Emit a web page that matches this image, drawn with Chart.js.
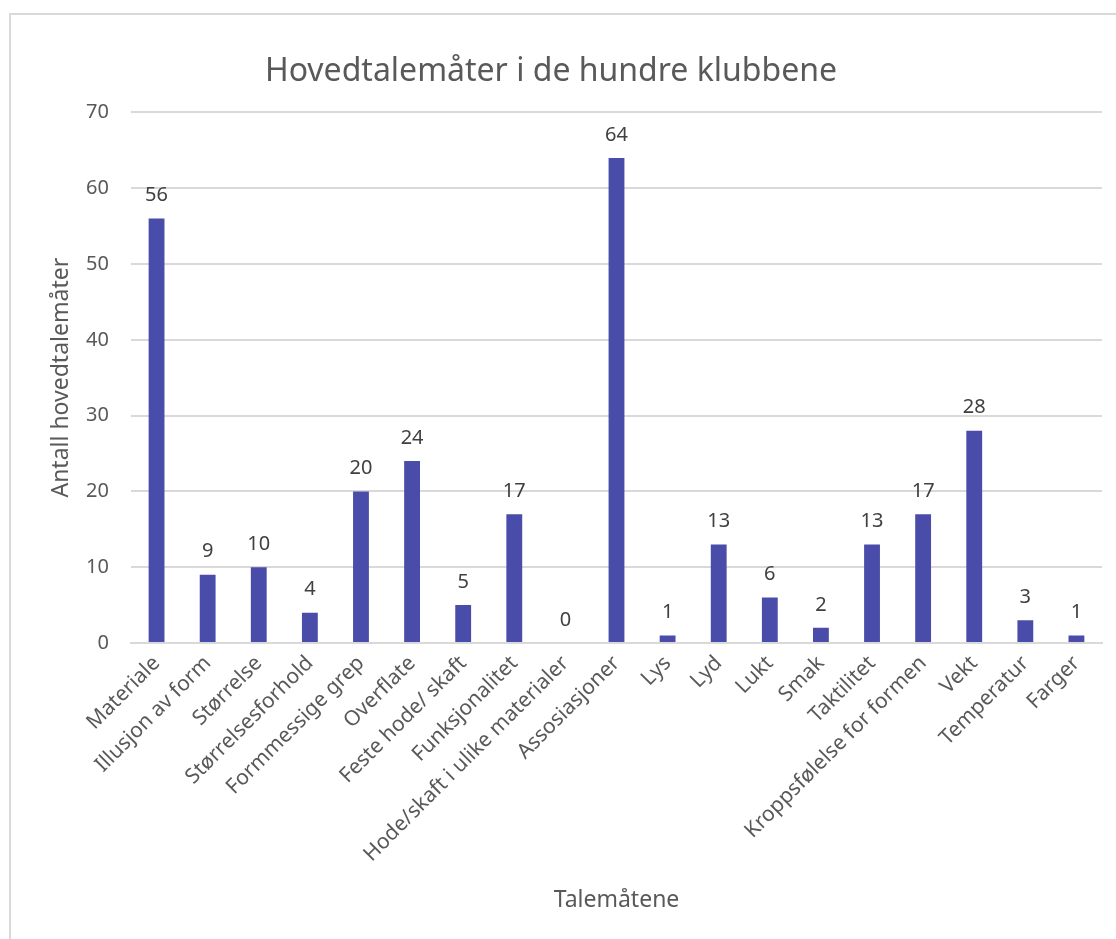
<!DOCTYPE html>
<html>
<head>
<meta charset="utf-8">
<script src="https://cdn.jsdelivr.net/npm/chart.js@4"></script>
<style>
html,body{margin:0;padding:0;background:#fff;overflow:hidden;}
#frame{position:absolute;left:9px;top:13px;width:1200px;height:1000px;border:2px solid #d9d9d9;box-sizing:border-box;}
canvas{position:absolute;left:0;top:0;}
</style>
</head>
<body>
<div id="frame"></div>
<canvas id="c" width="1116" height="939"></canvas>
<script>
const categories = ["Materiale","Illusjon av form","Størrelse","Størrelsesforhold","Formmessige grep","Overflate","Feste hode/ skaft","Funksjonalitet","Hode/skaft i ulike materialer","Assosiasjoner","Lys","Lyd","Lukt","Smak","Taktilitet","Kroppsfølelse for formen","Vekt","Temperatur","Farger"];
const values = [56,9,10,4,20,24,5,17,0,64,1,13,6,2,13,17,28,3,1];
const yTicks = [0,10,20,30,40,50,60,70];

const FONT = "'Noto Sans', 'Open Sans', sans-serif";
const TXT = '#595959';

const labelPlugin = {
  id: 'barLabels',
  afterDatasetsDraw(chart) {
    const ctx = chart.ctx;
    const meta = chart.getDatasetMeta(0);
    ctx.save();
    ctx.font = "20px " + FONT;
    ctx.fillStyle = '#404040';
    ctx.textAlign = 'center';
    ctx.textBaseline = 'bottom';
    meta.data.forEach((bar, i) => {
      ctx.fillText(String(values[i]), bar.x, bar.y - 13);
    });
    ctx.restore();
  }
};

new Chart(document.getElementById('c'), {
  type: 'bar',
  data: {
    labels: categories,
    datasets: [{
      data: values,
      backgroundColor: '#4A4CAA',
      categoryPercentage: 1.0,
      barPercentage: 0.31
    }]
  },
  options: {
    responsive: false,
    animation: false,
    layout: { padding: { left: 0, right: 14, top: 0, bottom: 25 } },
    plugins: {
      legend: { display: false },
      tooltip: { enabled: false },
      title: {
        display: true,
        text: 'Hovedtalemåter i de hundre klubbene',
        color: TXT,
        font: { family: FONT, size: 32, weight: 'normal' },
        padding: { top: 53, bottom: 21 }
      }
    },
    scales: {
      x: {
        grid: { display: false, drawTicks: false },
        border: { display: true, color: '#d9d9d9', width: 2 },
        ticks: {
          color: TXT,
          font: { family: FONT, size: 21 },
          minRotation: 45, maxRotation: 45,
          autoSkip: false,
          padding: 8
        },
        title: {
          display: true,
          text: 'Talemåtene',
          color: TXT,
          font: { family: FONT, size: 23 },
          padding: { top: 0, bottom: 0 }
        },
        afterFit(scale) { scale.height = 271; }
      },
      y: {
        min: 0, max: 70,
        afterBuildTicks(scale) { scale.ticks = yTicks.map(v => ({ value: v })); },
        grid: { color: '#d9d9d9', lineWidth: 2, drawTicks: false },
        border: { display: false },
        ticks: {
          color: TXT,
          font: { family: FONT, size: 20 },
          padding: 22
        },
        title: {
          display: true,
          text: 'Antall hovedtalemåter',
          color: TXT,
          font: { family: FONT, size: 23 },
          padding: { top: 48, bottom: 0 }
        },
        afterFit(scale) { scale.width = 131; }
      }
    }
  },
  plugins: [labelPlugin]
});
</script>
</body>
</html>
